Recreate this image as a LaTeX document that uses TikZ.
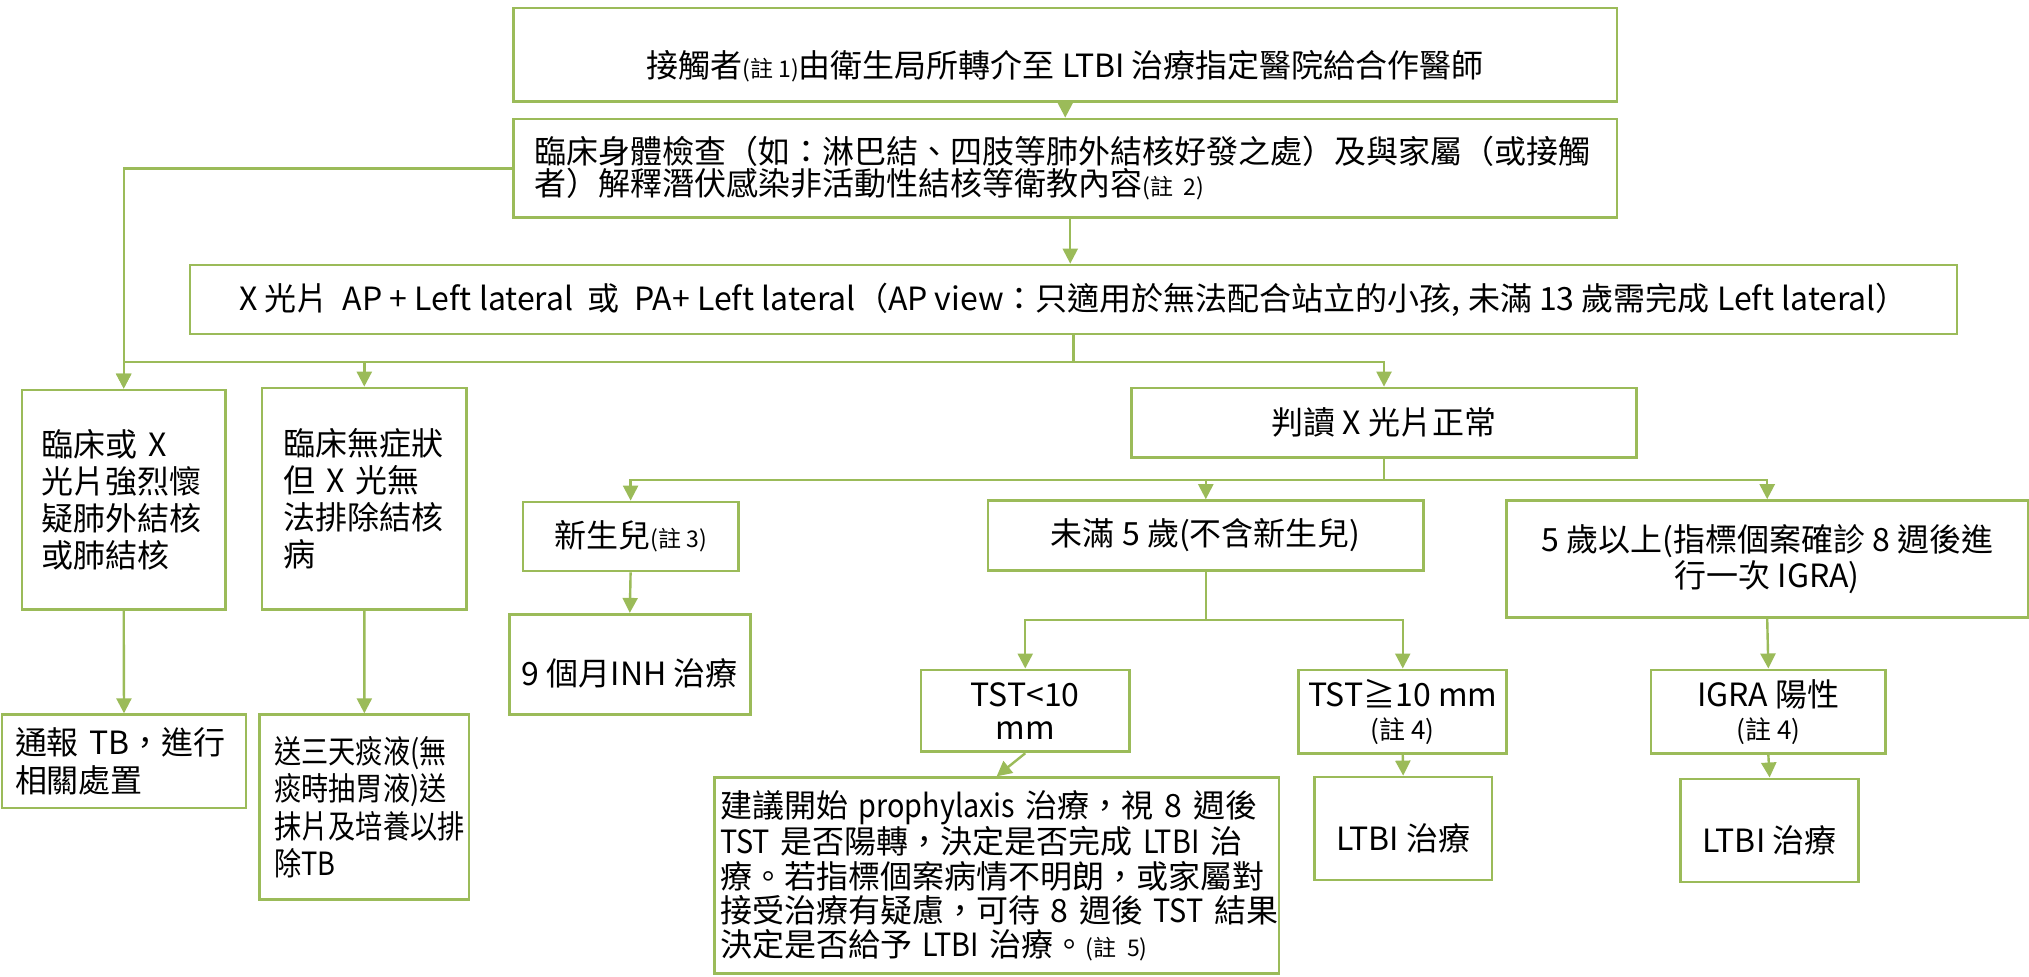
\documentclass[tikz,border=0pt]{standalone}
\usepackage{fontspec}
\setmainfont{Noto Sans CJK TC}
\newfontfamily\condfont[FakeStretch=0.85]{Noto Sans CJK TC}
\newfontfamily\narrowfont[FakeStretch=0.9]{Noto Sans CJK TC}
\usetikzlibrary{arrows.meta}
\definecolor{gr}{HTML}{9BBB59}
\newcommand\nta[1]{{\fontsize{11.5pt}{12pt}\selectfont #1}}
\newcommand\ntb[1]{{\fontsize{13pt}{14pt}\selectfont #1}}
\newcommand\lt[1]{{\narrowfont #1}}
\newcommand\lowered[2]{\raisebox{#1}[\height][\depth]{#2}}
\begin{document}
\begin{tikzpicture}[x=0.5pt,y=-0.5pt,
  box/.style={draw=gr, line width=1.4pt, inner sep=0pt, font=\fontsize{16pt}{18pt}\selectfont},
  arr/.style={draw=gr, line width=1.2pt, -{Triangle[width=7.5pt,length=7.5pt]}},
  ln/.style={draw=gr, line width=1.2pt}]
\fill[white] (0,0) rectangle (2029,976);
\useasboundingbox (0,0) rectangle (2029,976);

\node[box, minimum width=551.75pt, minimum height=46.85pt] (n1) at (1065.25,54.85)
  {\lowered{-5.5pt}{接觸者\nta{(註 1)}由衛生局所轉介至 LTBI 治療指定醫院給合作醫師}};
\node[box, minimum width=551.75pt, minimum height=49.35pt, text width=530.75pt, align=left,
  font=\fontsize{16pt}{16.2pt}\selectfont] (n2) at (1065.25,168.35)
  {臨床身體檢查（如：淋巴結、四肢等肺外結核好發之處）及與家屬（或接觸\\者）解釋潛伏感染非活動性結核等衛教內容\nta{(註 2)}};
\node[box, minimum width=883.5pt, minimum height=34.5pt] (n3) at (1073.5,299.5)
  {X 光片\ \ AP + Left lateral\ \ 或\ \ PA+ Left lateral（AP view：只適用於無法配合站立的小孩, 未滿 13 歲需完成 Left lateral）};

\node[box, minimum width=101.75pt, minimum height=109.8pt, text width=81.75pt, align=left,
  font=\fontsize{16pt}{18.5pt}\selectfont] (A) at (123.7,499.8)
  {臨床或 X\\光片強烈懷\\疑肺外結核\\或肺結核};
\node[box, minimum width=102.3pt, minimum height=110.8pt, text width=80.5pt, align=left,
  font=\fontsize{16pt}{18.5pt}\selectfont] (B) at (364.3,498.8)
  {臨床無症狀\\但 X 光無\\法排除結核\\病};
\node[box, minimum width=122pt, minimum height=46.65pt, text width=109pt, align=left,
  font=\fontsize{16pt}{19.3pt}\selectfont] (C) at (124,761.35)
  {通報 TB，進行\\相關處置};
\node[box, minimum width=104.65pt, minimum height=92.4pt, text width=90pt, align=left,
  font=\condfont\fontsize{16pt}{18.75pt}\selectfont] (D) at (364.35,807.1)
  {送三天痰液(無\\痰時抽胃液)送\\抹片及培養以排\\除TB};

\node[box, minimum width=107.7pt, minimum height=34.5pt] (E) at (630.6,536.5)
  {新生兒\nta{(註 3)}};
\node[box, minimum width=120.4pt, minimum height=50.2pt] (F) at (629.8,664.5)
  {\lowered{-4.5pt}{9 個月INH 治療}};

\node[box, minimum width=252.25pt, minimum height=34.85pt] (G) at (1384,422.85)
  {判讀 X 光片正常};
\node[box, minimum width=217.8pt, minimum height=34.8pt] (H) at (1205.8,535.4)
  {未滿 5 歲(不含新生兒)};
\node[box, minimum width=260.85pt, minimum height=58.55pt, align=center,
  font=\fontsize{16pt}{17.75pt}\selectfont] (I) at (1767.2,559.15)
  {5 歲以上(指標個案確診 8 週後進\\行一次 IGRA)};

\node[box, minimum width=104.25pt, minimum height=40.95pt, align=center,
  font=\fontsize{16pt}{16.5pt}\selectfont] (J) at (1025.25,710.85)
  {TST<10\\mm};
\node[box, minimum width=104.05pt, minimum height=41.75pt, align=center,
  font=\fontsize{16pt}{16.5pt}\selectfont] (K) at (1402.75,711.65)
  {TST≧10 mm\\\ntb{(註 4)}};
\node[box, minimum width=282.35pt, minimum height=98pt, text width=276.65pt, align=left,
  font=\fontsize{16pt}{17.2pt}\selectfont] (L) at (996.65,875.7)
  {\makebox[272pt][s]{建議開始 \lt{prophylaxis} 治療，視 8 週後}\\
   \makebox[272pt][s]{\lt{TST} 是否陽轉，決定是否完成 \lt{LTBI} 治}\\
   療。若指標個案病情不明朗，或家屬對\\
   \makebox[272pt][s]{接受治療有疑慮，可待 8 週後 \lt{TST} 結果}\\
   決定是否給予 \lt{LTBI} 治療。\nta{(註 5)}};
\node[box, minimum width=88.85pt, minimum height=51.5pt] (M) at (1403.15,828.5)
  {\lowered{-5pt}{LTBI 治療}};
\node[box, minimum width=117.35pt, minimum height=41.75pt, align=center,
  font=\fontsize{16pt}{16.5pt}\selectfont] (N) at (1768.35,711.65)
  {IGRA 陽性\\\ntb{(註 4)}};
\node[box, minimum width=89.2pt, minimum height=51.55pt] (O) at (1769.6,830.45)
  {\lowered{-5pt}{LTBI 治療}};

\draw[arr] (n1.south) -- (n2.north);
\draw[arr] ([xshift=2.5pt]n2.south) -- ([xshift=2.5pt]n2.south |- n3.north);
\coordinate (j1) at (1073.5,361.7);
\draw[ln] (n3.south) -- (j1);
\draw[arr] (n2.west) -| (A.north);
\draw[arr] (j1) -| (A.north);
\draw[arr] (j1) -| (B.north);
\draw[arr] (j1) -| (G.north);
\draw[arr] (A.south) -- (C.north);
\draw[arr] (B.south) -- (D.north);
\coordinate (j2) at (1384,479.8);
\draw[ln] (G.south) -- (j2);
\draw[arr] (j2) -| (E.north);
\draw[arr] (j2) -| (H.north);
\draw[arr] (j2) -| (I.north);
\draw[arr] (E.south) -- (F.north);
\coordinate (j3) at (1205.8,619.7);
\draw[ln] (H.south) -- (j3);
\draw[arr] (j3) -| (J.north);
\draw[arr] (j3) -| (K.north);
\draw[arr] (J.south) -- (L.north);
\draw[arr] (K.south) -- (M.north);
\draw[arr] (I.south) -- (N.north);
\draw[arr] (N.south) -- (O.north);
\end{tikzpicture}
\end{document}
